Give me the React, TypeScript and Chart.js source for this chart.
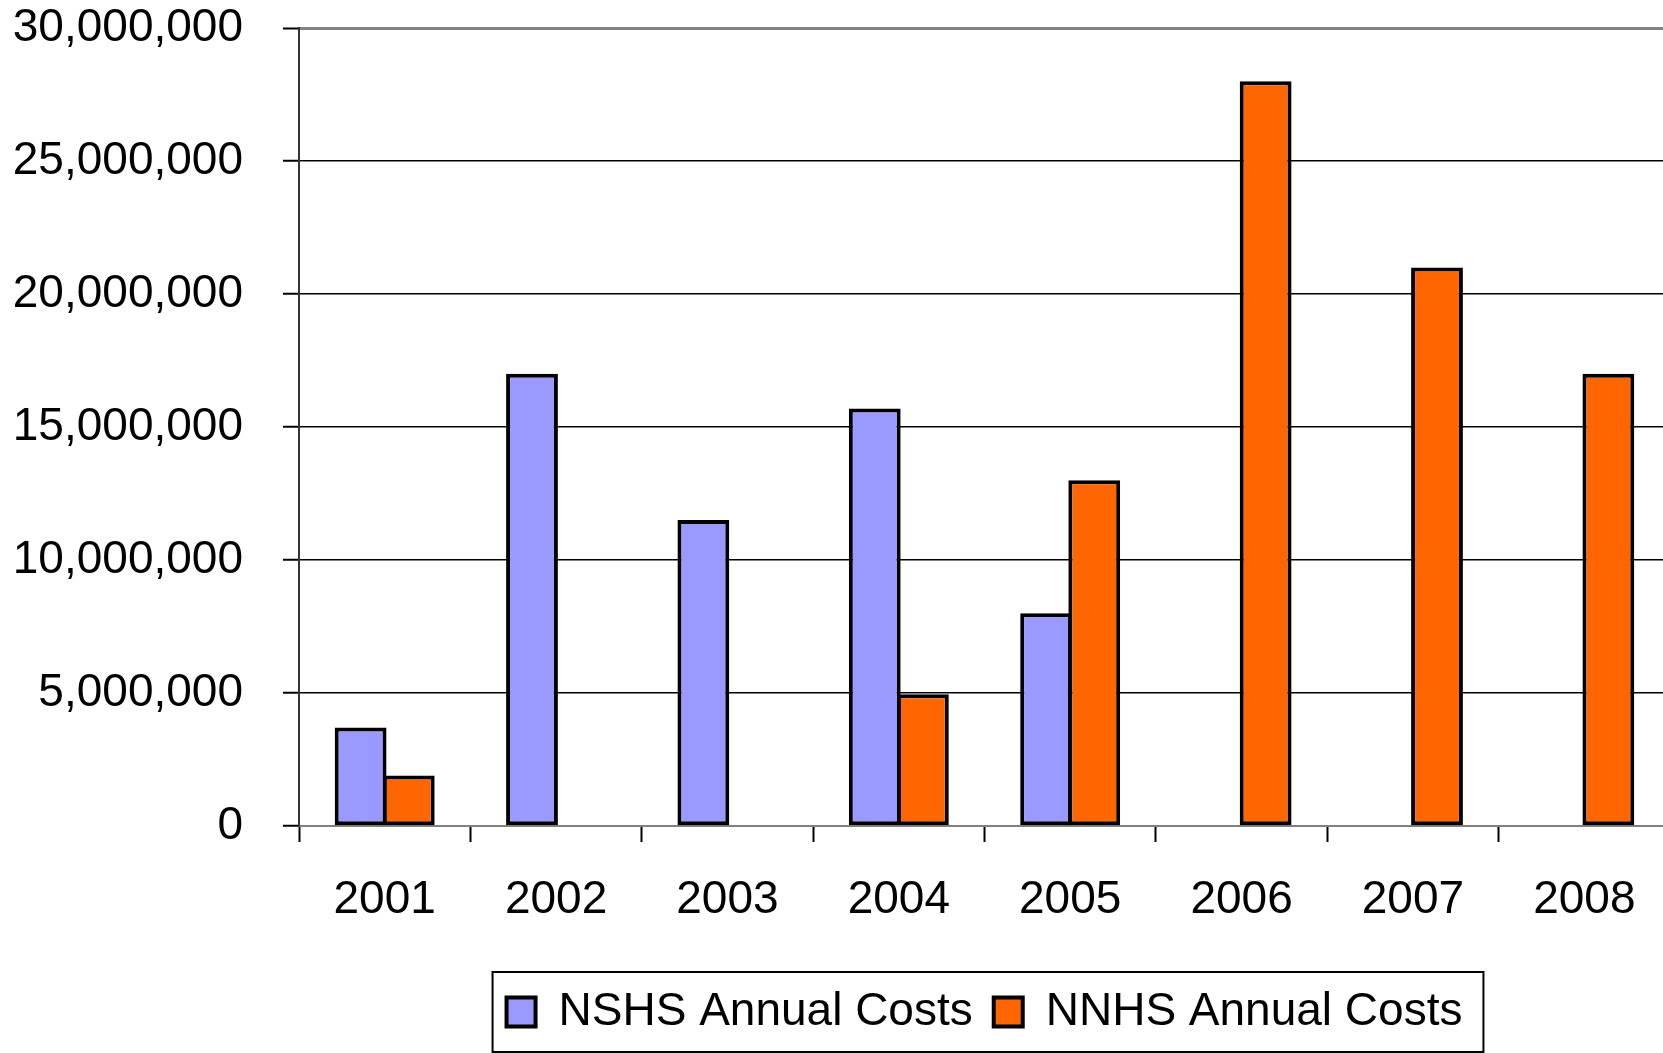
import React, { useEffect, useRef } from "react";
import { Chart, registerables } from "chart.js";

Chart.register(...registerables);

const years = ["2001", "2002", "2003", "2004", "2005", "2006", "2007", "2008"];
const nshsCosts = [3700000, 17000000, 11500000, 15700000, 8000000, null, null, null];
const nnhsCosts = [1900000, null, null, 4950000, 13000000, 28000000, 21000000, 17000000];
const seriesNames = ["NSHS Annual Costs", "NNHS Annual Costs"];
const yMax = 30000000;
const yStep = 5000000;

const FONT = "'Liberation Sans', Arial, sans-serif";

const legendBoxPlugin = {
  id: "legendBox",
  afterDraw(chart: any) {
    const lg = chart.legend;
    if (!lg || !lg.legendHitBoxes || !lg.legendHitBoxes.length) return;
    const hbs = lg.legendHitBoxes;
    let minL = Infinity, maxR = -Infinity, cy = 0;
    hbs.forEach((hb: any) => {
      minL = Math.min(minL, hb.left);
      maxR = Math.max(maxR, hb.left + hb.width);
      cy = hb.top + hb.height / 2;
    });
    const ctx = chart.ctx;
    ctx.save();
    ctx.strokeStyle = "#000";
    ctx.lineWidth = 2;
    ctx.strokeRect(minL - 14, cy - 40, maxR - minL + 35, 80);
    ctx.restore();
  },
};

export default function App() {
  const ref = useRef<HTMLCanvasElement | null>(null);

  useEffect(() => {
    document.body.style.margin = "0";
    document.body.style.overflow = "hidden";
    if (!ref.current) return;
    const barStyle = {
      borderColor: "#000000",
      borderWidth: 4,
      borderSkipped: false as const,
      inflateAmount: 0,
      categoryPercentage: 0.5618,
      barPercentage: 1.0768,
    };
    const chart = new Chart(ref.current, {
      type: "bar",
      data: {
        labels: years,
        datasets: [
          {
            label: seriesNames[0],
            data: nshsCosts,
            backgroundColor: "#9999FF",
            ...barStyle,
          },
          {
            label: seriesNames[1],
            data: nnhsCosts,
            backgroundColor: "#FF6600",
            ...barStyle,
          },
        ],
      },
      options: {
        responsive: false,
        animation: false,
        devicePixelRatio: 1,
        layout: { padding: { left: 0, right: 0, top: 0, bottom: 8 } },
        plugins: {
          tooltip: { enabled: false },
          legend: {
            position: "bottom",
            fullSize: false,
            labels: {
              font: { family: FONT, size: 46 },
              color: "#000",
              boxWidth: 29,
              boxHeight: 29,
              padding: 21,
            },
          },
        },
        scales: {
          x: {
            grid: {
              display: true,
              drawOnChartArea: false,
              drawTicks: true,
              tickLength: 16,
              tickColor: "#000",
              tickWidth: 2,
              offset: true,
            },
            border: { display: true, color: "#808080", width: 2 },
            ticks: {
              font: { family: FONT, size: 46 },
              color: "#000",
              padding: 31,
            },
            afterFit: (scale: any) => {
              scale.height = 142;
            },
          },
          y: {
            min: 0,
            max: yMax,
            grid: {
              color: (ctx: any) =>
                ctx.tick && (ctx.tick.value === yMax || ctx.tick.value === 0) ? "#808080" : "#000",
              lineWidth: (ctx: any) => (ctx.tick && ctx.tick.value === yMax ? 3 : 1.5),
              drawTicks: true,
              tickLength: 16,
              tickColor: "#000",
              tickWidth: 2,
            },
            border: { display: true, color: "#333", width: 2 },
            ticks: {
              stepSize: yStep,
              font: { family: FONT, size: 46 },
              color: "#000",
              padding: 40,
              callback: (v: any) => Number(v).toLocaleString("en-US"),
            },
            afterFit: (scale: any) => {
              scale.width = 299;
              scale.paddingTop = 28;
              scale.paddingBottom = 0;
            },
          },
        },
      },
      plugins: [legendBoxPlugin],
    });
    return () => chart.destroy();
  }, []);

  return (
    <div style={{ width: 1663, height: 1053, overflow: "hidden", background: "#fff" }}>
      <canvas ref={ref} width={1670} height={1053} style={{ display: "block" }} />
    </div>
  );
}
